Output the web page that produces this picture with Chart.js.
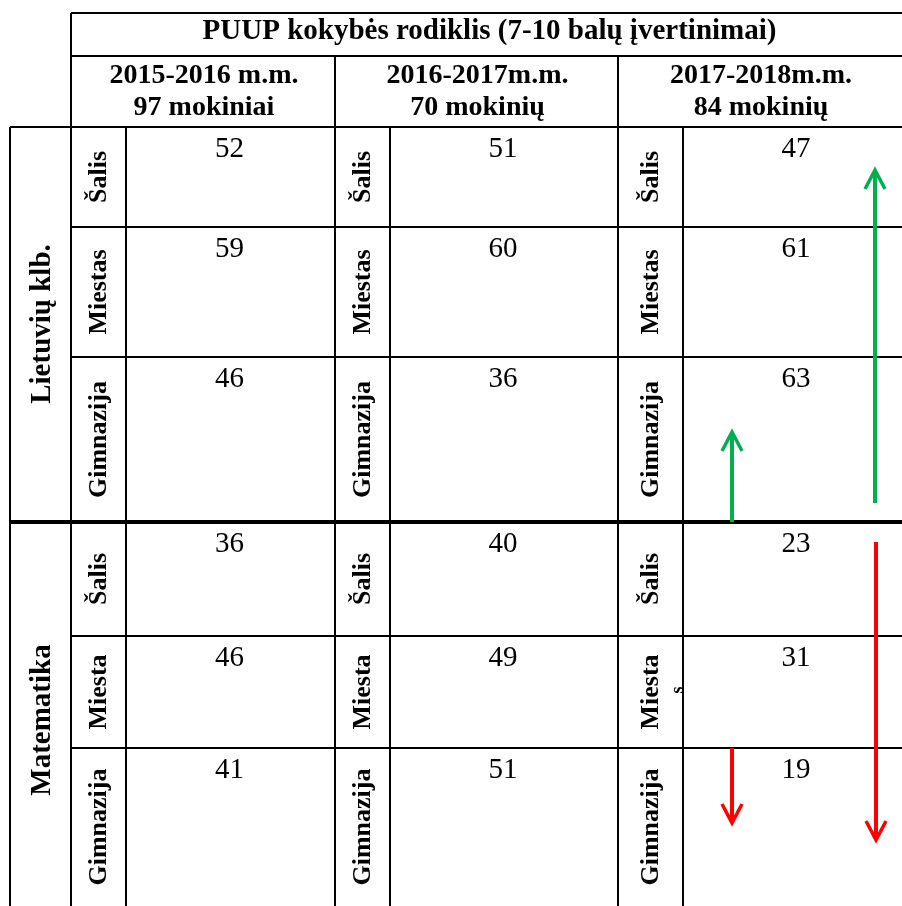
<!DOCTYPE html>
<html>
<head>
<meta charset="utf-8">
<script src="https://cdn.jsdelivr.net/npm/chart.js@4/dist/chart.umd.min.js"></script>
<style>
html,body{margin:0;padding:0;background:#fff;}
canvas{display:block;}
</style>
</head>
<body>
<canvas id="myChart" width="902" height="906"></canvas>
<script>
// data
const title = 'PUUP kokybės rodiklis (7-10 balų įvertinimai)';
const years = ['2015-2016 m.m.', '2016-2017m.m.', '2017-2018m.m.'];
const pupils = ['97 mokiniai', '70 mokinių', '84 mokinių'];
const subjects = ['Lietuvių klb.', 'Matematika'];
const groups = ['Šalis', 'Miestas', 'Gimnazija', 'Šalis', 'Miesta', 'Gimnazija'];
// rows: LT Šalis, Miestas, Gimnazija, MAT Šalis, Miesta, Gimnazija
const y2016 = [52, 59, 46, 36, 46, 41];
const y2017 = [51, 60, 36, 40, 49, 51];
const y2018 = [47, 61, 63, 23, 31, 19];
const seriesByYear = [y2016, y2017, y2018];

// layout (table geometry in page units)
const rowEdges = [127, 227, 357, 522, 636, 748, 906];
const blockEdges = [[71, 126, 335], [335, 390, 618], [618, 683, 911]];
const subjectCol = [10, 71];
const headTop = 13, headMid = 56;
const serif = '"Liberation Serif", "Times New Roman", serif';

// trend arrows in 2017-2018 column: [x, yFrom, yTo, colour]
const arrows = [
  [875, 503, 170, '#00b050'],
  [732, 522, 432, '#00b050'],
  [876, 542, 840, '#ff0000'],
  [732, 748, 823, '#ff0000']
];

const datasets = seriesByYear.map((vals, b) => ({
  label: years[b],
  data: vals.map((v, r) => ({
    x: (blockEdges[b][1] + blockEdges[b][2]) / 2 - 1,
    y: rowEdges[r] + 30,
    v: v
  })),
  pointRadius: 0
}));

const tablePlugin = {
  id: 'table',
  beforeDatasetsDraw(chart) {
    const ctx = chart.ctx;
    const sx = chart.scales.x, sy = chart.scales.y;
    const X = v => sx.getPixelForValue(v);
    const Y = v => sy.getPixelForValue(v);
    const line = (x1, y1, x2, y2, w) => {
      ctx.beginPath();
      ctx.lineWidth = w;
      ctx.moveTo(X(x1), Y(y1));
      ctx.lineTo(X(x2), Y(y2));
      ctx.stroke();
    };
    ctx.save();
    ctx.strokeStyle = '#000';
    const right = 902;
    // header lines
    line(blockEdges[0][0], headTop, right, headTop, 2);
    line(blockEdges[0][0], headMid, right, headMid, 2);
    line(subjectCol[0], rowEdges[0], right, rowEdges[0], 2);
    // row lines
    for (let r = 1; r < rowEdges.length - 1; r++) {
      if (r === 3) line(subjectCol[0], rowEdges[r], right, rowEdges[r], 4);
      else line(blockEdges[0][0], rowEdges[r], right, rowEdges[r], 2);
    }
    // vertical lines
    line(subjectCol[0], rowEdges[0], subjectCol[0], 906, 2);
    line(blockEdges[0][0], headTop, blockEdges[0][0], 906, 2);
    blockEdges.forEach((b, i) => {
      if (i > 0) line(b[0], headMid, b[0], 906, 2);
      line(b[1], rowEdges[0], b[1], 906, 2);
    });

    // header texts
    ctx.fillStyle = '#000';
    ctx.textAlign = 'center';
    ctx.textBaseline = 'alphabetic';
    ctx.font = 'bold 29px ' + serif;
    ctx.fillText(title, X((blockEdges[0][0] + right) / 2 + 3), Y(39));
    ctx.font = 'bold 28px ' + serif;
    blockEdges.forEach((b, i) => {
      const cx = X((b[0] + Math.min(b[2], right)) / 2 + 1);
      ctx.fillText(years[i], cx, Y(83));
      ctx.fillText(pupils[i], cx, Y(115));
    });

    // rotated row labels
    const vtext = (txt, x, y, font) => {
      ctx.save();
      ctx.translate(X(x), Y(y));
      ctx.rotate(-Math.PI / 2);
      ctx.font = font;
      ctx.textAlign = 'center';
      ctx.textBaseline = 'middle';
      ctx.fillText(txt, 0, 0);
      ctx.restore();
    };
    blockEdges.forEach((b, i) => {
      groups.forEach((g, r) => {
        vtext(g, (b[0] + b[1]) / 2 + 1, (rowEdges[r] + rowEdges[r + 1]) / 2, 'bold 26px ' + serif);
      });
    });
    // stray wrapped letter in the last Miesta cell
    vtext('s', blockEdges[2][1] - 5, 690, 'bold 18px ' + serif);
    vtext(subjects[0], (subjectCol[0] + subjectCol[1]) / 2 + 2, 324, 'bold 29px ' + serif);
    vtext(subjects[1], (subjectCol[0] + subjectCol[1]) / 2 + 2, 720, 'bold 29px ' + serif);
    ctx.restore();
  },
  afterDatasetsDraw(chart) {
    const ctx = chart.ctx;
    const sx = chart.scales.x, sy = chart.scales.y;
    ctx.save();
    ctx.fillStyle = '#000';
    ctx.textAlign = 'center';
    ctx.textBaseline = 'alphabetic';
    ctx.font = '29px ' + serif;
    chart.data.datasets.forEach((ds, i) => {
      const meta = chart.getDatasetMeta(i);
      meta.data.forEach((pt, j) => {
        ctx.fillText(String(ds.data[j].v), pt.x, pt.y);
      });
    });
    // arrows
    arrows.forEach(a => {
      const x = sx.getPixelForValue(a[0]);
      const y1 = sy.getPixelForValue(a[1]);
      const y2 = sy.getPixelForValue(a[2]);
      const dir = y2 < y1 ? 1 : -1;
      ctx.strokeStyle = a[3];
      ctx.lineWidth = 4;
      ctx.beginPath();
      ctx.moveTo(x, y1);
      ctx.lineTo(x, y2 + dir * 2);
      ctx.stroke();
      ctx.lineWidth = 3.5;
      ctx.beginPath();
      ctx.moveTo(x - 10, y2 + dir * 19);
      ctx.lineTo(x, y2);
      ctx.lineTo(x + 10, y2 + dir * 19);
      ctx.stroke();
    });
    ctx.restore();
  }
};

new Chart(document.getElementById('myChart'), {
  type: 'scatter',
  data: { datasets },
  options: {
    responsive: false,
    animation: false,
    devicePixelRatio: 1,
    layout: { padding: 0 },
    plugins: { legend: { display: false }, tooltip: { enabled: false } },
    scales: {
      x: { type: 'linear', min: 0, max: 902, display: false },
      y: { type: 'linear', min: 0, max: 906, reverse: true, display: false }
    }
  },
  plugins: [tablePlugin]
});
</script>
</body>
</html>
